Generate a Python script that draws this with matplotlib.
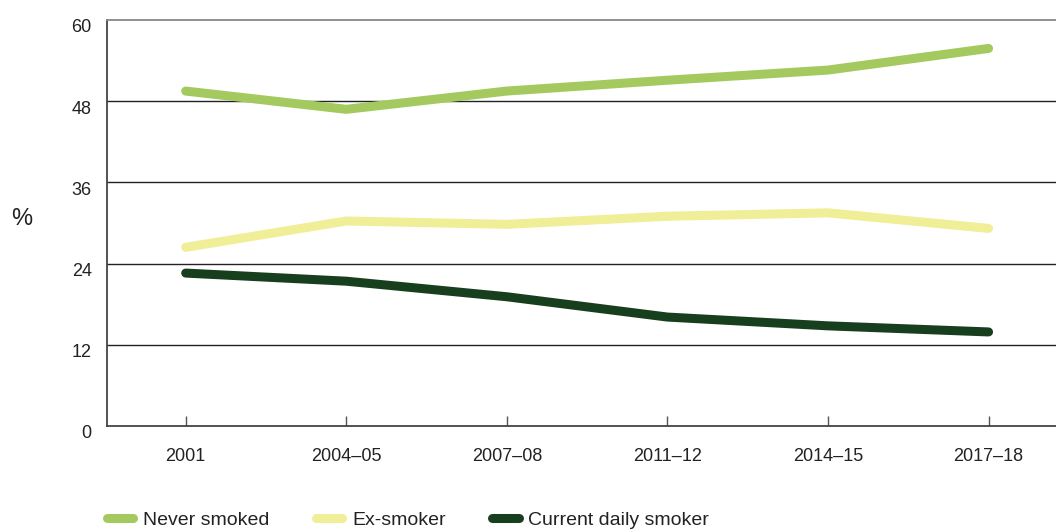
import matplotlib
matplotlib.use("Agg")
import matplotlib.pyplot as plt
import matplotlib.transforms as mtransforms
from matplotlib.lines import Line2D

plt.rcParams['font.family'] = ['Liberation Sans', 'DejaVu Sans']

periods = ["2001", "2004–05", "2007–08", "2011–12", "2014–15", "2017–18"]
never_smoked = [49.5, 46.8, 49.5, 51.1, 52.6, 55.8]
ex_smoker = [26.4, 30.3, 29.8, 31.0, 31.5, 29.2]
current_daily = [22.6, 21.4, 19.1, 16.1, 14.8, 13.9]
series_names = ["Never smoked", "Ex-smoker", "Current daily smoker"]
colors = ["#a3c95f", "#f0ee96", "#173f1d"]
yticks = [0, 12, 24, 36, 48, 60]

fig = plt.figure(figsize=(10.56, 5.29), dpi=100)
ax = fig.add_axes([107/1056, 103/529, 1 - 107/1056, (426-20)/529])

x = list(range(len(periods)))
for g in yticks[1:-1]:
    ax.axhline(g, color='#222222', lw=1.0, zorder=1)

for vals, c in zip([never_smoked, ex_smoker, current_daily], colors):
    ax.plot(x, vals, color=c, lw=6.5, solid_capstyle='round', solid_joinstyle='round', zorder=3)

ax.set_xlim(-0.49, 5.42)
ax.set_ylim(0, 60)
ax.set_yticks(yticks)
ax.set_xticks(x)
ax.set_xticklabels(periods)
ax.tick_params(axis='y', length=0, pad=11, labelsize=13, labelcolor='#222222')
ax.tick_params(axis='x', direction='in', length=7, width=1, color='#555555', pad=16, labelsize=13, labelcolor='#222222')
offset = mtransforms.ScaledTranslation(0, -6/100, fig.dpi_scale_trans)
for lab in ax.get_yticklabels():
    lab.set_transform(lab.get_transform() + offset)
for s in ['left', 'bottom']:
    ax.spines[s].set_color('#444444')
    ax.spines[s].set_linewidth(1.3)
ax.spines['top'].set_color('#888888')
ax.spines['top'].set_linewidth(1.3)
ax.spines['right'].set_visible(False)

fig.text(22/1056, 1 - 219/529, "%", fontsize=17, color='#222222', ha='center', va='center')

handles = [Line2D([0], [0], color=c, lw=6.5, solid_capstyle='round') for c in colors]
leg = fig.legend(handles, series_names, loc='center left', bbox_to_anchor=(107/1056, 9/529),
                 ncol=3, frameon=False, fontsize=14, handlelength=1.35, handletextpad=0.5,
                 columnspacing=2.4, borderaxespad=0, borderpad=0)
for t in leg.get_texts():
    t.set_color('#222222')

fig.savefig("out.png", dpi=100)
